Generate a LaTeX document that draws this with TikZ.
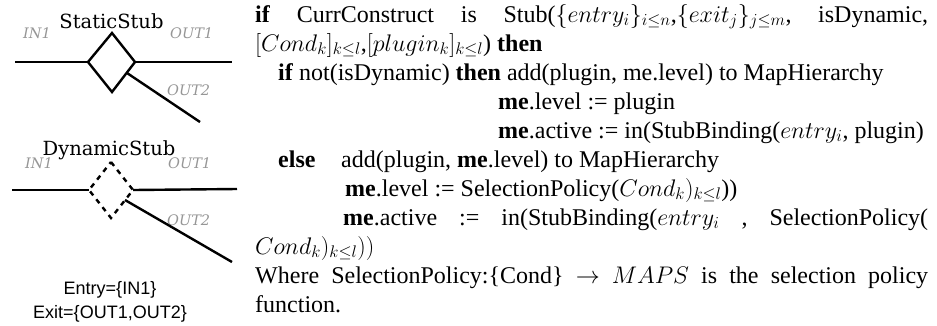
\RequirePackage{fix-cm}
\documentclass[tikz,border=0pt]{standalone}
\usepackage{fontspec}
\setmainfont{Liberation Serif}
\newfontfamily\figserif{DejaVu Serif}
\newfontfamily\figsans{Liberation Sans}
\definecolor{portgray}{RGB}{150,150,150}
\begin{document}
\begin{tikzpicture}[x=1pt,y=-1pt,
  wire/.style={line width=2.4pt, line join=miter},
  dwire/.style={line width=2.4pt, dash pattern=on 5pt off 5pt},
  body/.style={anchor=base west, inner sep=0pt, font=\fontsize{24}{29}\selectfont},
  stubname/.style={anchor=base, inner sep=0pt, font=\figserif\fontsize{19.5}{22}\selectfont},
  port/.style={anchor=base west, inner sep=0pt, text=portgray, font=\figserif\itshape\fontsize{14.5}{16}\selectfont},
  setlabel/.style={anchor=base, inner sep=0pt, font=\figsans\fontsize{18}{20}\selectfont}]
\useasboundingbox (0,0) rectangle (937,325);

% ---------- Static stub ----------
\node[stubname] (sname) at (111.5,28) {StaticStub};
\node[port] (sin) at (23,38) {IN1};
\node[port] (sout1) at (170,38) {OUT1};
\node[port] (sout2) at (167,95) {OUT2};
\coordinate (sT) at (112,33);
\coordinate (sR) at (135,62);
\coordinate (sB) at (112,92);
\coordinate (sL) at (88,62);
\coordinate (sInEnd) at (15,62);
\coordinate (sOut1End) at (232,62);
\coordinate (sOut2Start) at (127,73);
\coordinate (sOut2End) at (200,122);
\draw[wire] (sT) -- (sR) -- (sB) -- (sL) -- cycle;
\draw[wire] (sInEnd) -- (sL);
\draw[wire] (sR) -- (sOut1End);
\draw[wire] (sOut2Start) -- (sOut2End);

% ---------- Dynamic stub ----------
\node[stubname] (dname) at (109,155) {DynamicStub};
\node[port] (din) at (25,168) {IN1};
\node[port] (dout1) at (168,168) {OUT1};
\node[port] (dout2) at (167,225) {OUT2};
\coordinate (dT) at (111,162);
\coordinate (dR) at (133,190);
\coordinate (dB) at (111,218);
\coordinate (dL) at (89,190);
\coordinate (dInEnd) at (12,190);
\coordinate (dOut1End) at (237,189);
\coordinate (dOut2Start) at (125,200);
\coordinate (dOut2End) at (232,262);
\draw[dwire] (dT) -- (dR) -- (dB) -- (dL) -- cycle;
\draw[wire] (dInEnd) -- (dL);
\draw[wire] (dR) -- (dOut1End);
\draw[wire] (dOut2Start) -- (dOut2End);

\node[setlabel] (entry) at (110,294) {Entry=\{IN1\}};
\node[setlabel] (exit) at (110,318) {Exit=\{OUT1,OUT2\}};

% ---------- Text ----------
\node[body] (l1) at (255,22) {\hbox to 673pt{\textbf{if}\hfill CurrConstruct\hfill is\hfill Stub($\{entry_i\}_{i\leq n}$,$\{exit_j\}_{j\leq m}$,\hfill isDynamic,}};
\node[body] (l2) at (255,51) {$[Cond_k]_{k\leq l}$,$[plugin_k]_{k\leq l}$) \textbf{then}};
\node[body] (l3) at (278,80) {\textbf{if} not(isDynamic) \textbf{then} add(plugin, me.level) to MapHierarchy};
\node[body] (l4) at (498,109) {\textbf{me}.level := plugin};
\node[body] (l5) at (498,138) {\textbf{me}.active := in(StubBinding($entry_i$, plugin)};
\node[body] (l6) at (278,167) {\makebox[63pt][l]{\textbf{else}}add(plugin, \textbf{me}.level) to MapHierarchy};
\node[body] (l7) at (345,196) {\textbf{me}.level := SelectionPolicy($Cond_k)_{k\leq l}$))};
\node[body] (l8) at (343,225) {\hbox to 585pt{\textbf{me}.active\hfill:=\hfill in(StubBinding($entry_i$\hfill,\hfill SelectionPolicy(}};
\node[body] (l9) at (255,254) {$Cond_k)_{k\leq l}))$};
\node[body] (l10) at (255,283) {\hbox to 673pt{Where\hfill SelectionPolicy:\{Cond\}\hfill$\rightarrow$\hfill$MAPS$\hfill is\hfill the\hfill selection\hfill policy}};
\node[body] (l11) at (255,312) {function.};
\end{tikzpicture}
\end{document}
